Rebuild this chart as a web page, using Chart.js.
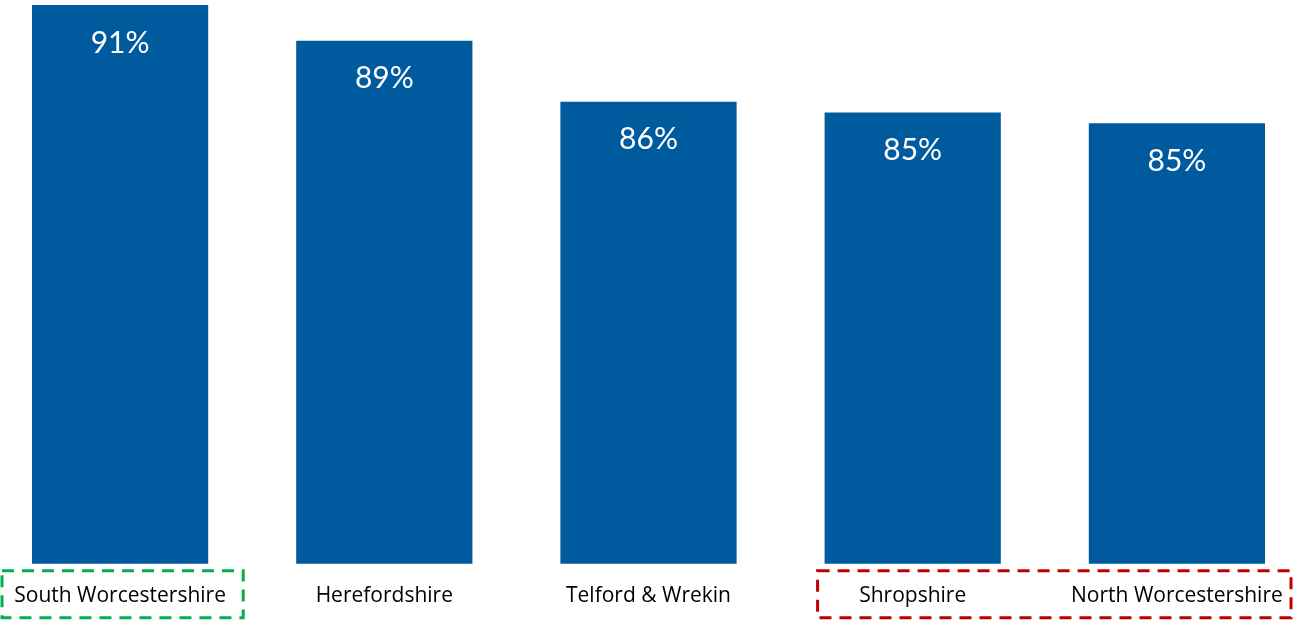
<!DOCTYPE html>
<html>
<head>
<meta charset="utf-8">
<script src="https://cdn.jsdelivr.net/npm/chart.js@4.4.0/dist/chart.umd.min.js"></script>
<style>
  html, body { margin: 0; padding: 0; background: #fff; overflow: hidden; }
  #wrap { position: absolute; left: -12px; top: 0; width: 1321px; height: 629px; }
</style>
</head>
<body>
<div id="wrap"><canvas id="chart-canvas"></canvas></div>
<script>
const categories = ["South Worcestershire", "Herefordshire", "Telford & Wrekin", "Shropshire", "North Worcestershire"];
const values = [91.2, 89.2, 85.8, 85.2, 84.6];
const barColor = "#005A9E";

// dashed boxes round some of the axis labels
const highlightBoxes = [
    { from: 0, to: 0, left: -0.447, right: 0.466, color: "#00B050" },
    { from: 3, to: 4, left: -0.36, right: 0.432, color: "#C00000" }
];

const valueLabels = {
    id: "valueLabels",
    afterDatasetsDraw(chart) {
        const ctx = chart.ctx;
        const meta = chart.getDatasetMeta(0);
        ctx.save();
        ctx.fillStyle = "#fff";
        ctx.font = "30px Lato, 'Open Sans', sans-serif";
        ctx.textAlign = "center";
        ctx.textBaseline = "middle";
        meta.data.forEach((bar, i) => {
            ctx.fillText(Math.round(values[i]) + "%", bar.x, bar.y + 38);
        });
        ctx.restore();
    }
};

const dashedBoxes = {
    id: "dashedBoxes",
    afterDraw(chart) {
        const ctx = chart.ctx;
        const x = chart.scales.x;
        const step = x.getPixelForValue(1) - x.getPixelForValue(0);
        const top = chart.chartArea.bottom + 7;
        const bottom = top + 47;
        ctx.save();
        ctx.lineWidth = 3;
        ctx.setLineDash([12, 8]);
        highlightBoxes.forEach(b => {
            const l = x.getPixelForValue(b.from) + b.left * step;
            const r = x.getPixelForValue(b.to) + b.right * step;
            ctx.strokeStyle = b.color;
            ctx.strokeRect(l, top, r - l, bottom - top);
        });
        ctx.restore();
    }
};

new Chart(document.getElementById("chart-canvas"), {
    type: "bar",
    data: {
        labels: categories,
        datasets: [{
            data: values,
            backgroundColor: barColor,
            barPercentage: 0.667,
            categoryPercentage: 1
        }]
    },
    options: {
        responsive: true,
        maintainAspectRatio: false,
        animation: false,
        layout: { padding: { top: 5, bottom: 0, left: 0, right: 0 } },
        plugins: { legend: { display: false }, tooltip: { enabled: false } },
        scales: {
            y: { display: false, min: 60, max: 91.2 },
            x: {
                grid: { display: false, drawTicks: false },
                border: { display: false },
                ticks: {
                    color: "#000",
                    padding: 20,
                    maxRotation: 0,
                    autoSkip: false,
                    font: { family: "'Open Sans', sans-serif", size: 21 }
                }
            }
        }
    },
    plugins: [valueLabels, dashedBoxes]
});
</script>
</body>
</html>
